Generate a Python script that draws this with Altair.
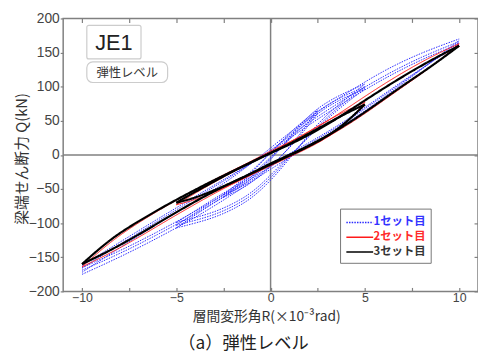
import altair as alt
import pandas as pd

# ---------------- data ----------------
SETS = ["1セット目", "2セット目", "3セット目"]

# 3rd set (black)
X10 = [-10, -8.5, -7, -5.5, -4, -2.5, -1, 0, 1.5, 3.3, 5, 6.7, 8.5, 10]
BLACK10_UP = [-160, -123, -97, -73, -51, -30, -11, 3, 21, 49, 80, 110, 139, 160]
BLACK10_LO = [-160, -140, -117, -92, -68, -46, -27, -12, 6, 32, 62, 96, 129, 160]
X5 = [-5, -4, -3, -2, -1, 0, 1, 2, 3, 4, 5]
BLACK5_UP = [-70, -54, -39, -24, -10, 3, 16, 31, 46, 61, 74]
BLACK5_LO = [-70, -63, -52, -40, -27, -14, -1, 12, 27, 47, 74]

# 2nd set (red)
RED10_UP = [-164, -127, -99, -74, -51, -29, -9, 6, 25, 54, 86, 116, 144, 163]
RED10_LO = [-164, -144, -121, -96, -72, -49, -29, -14, 4, 30, 60, 94, 128, 163]
RED5_UP = [-73, -56, -40, -25, -10, 4, 18, 34, 50, 65, 77]
RED5_LO = [-73, -66, -55, -42, -29, -16, -3, 10, 25, 45, 77]

# 1st set (blue, dotted)
XB10 = [-10, -8, -6, -4, -2, 0, 2, 4, 6, 8, 10]
BLUE10A_UP = [-172, -136, -101, -68, -34, 10, 55, 90, 124, 150, 170]
BLUE10A_LO = [-175, -150, -122, -92, -58, -20, 12, 45, 84, 125, 168]
BLUE10B_UP = [-166, -131, -97, -64, -30, 6, 48, 83, 116, 144, 166]
BLUE10B_LO = [-169, -145, -117, -87, -53, -16, 15, 48, 87, 126, 165]
BLUE10C_UP = [-162, -128, -94, -61, -28, 4, 44, 79, 112, 140, 163]
BLUE10C_LO = [-165, -141, -113, -83, -50, -13, 17, 50, 89, 127, 162]
BLUE5A_UP = [-107, -88, -70, -54, -36, -8, 26, 58, 78, 92, 104]
BLUE5A_LO = [-107, -100, -92, -80, -64, -38, -6, 30, 60, 82, 104]
BLUE5B_UP = [-103, -85, -67, -51, -33, -5, 24, 54, 74, 88, 100]
BLUE5B_LO = [-103, -96, -88, -76, -60, -34, -3, 27, 56, 79, 100]
BLUE5C_UP = [-99, -82, -64, -48, -30, -3, 22, 50, 71, 85, 97]
BLUE5C_LO = [-99, -92, -84, -72, -56, -30, -1, 25, 53, 76, 97]
X25 = [-2.5, -1.5, -0.5, 0.5, 1.5, 2.5]
BLUE25A_UP = [-62, -40, -12, 18, 45, 66]
BLUE25A_LO = [-62, -50, -30, -5, 28, 66]
BLUE25B_UP = [-58, -37, -10, 17, 42, 61]
BLUE25B_LO = [-58, -47, -28, -4, 25, 61]

X_TICKS = [-10, -7.5, -5, -2.5, 0, 2.5, 5, 7.5, 10]
X_LABELS = [-10, -5, 0, 5, 10]
Y_TICKS = [-200, -150, -100, -50, 0, 50, 100, 150, 200]

loops = [
    (SETS[0], "b10a", XB10, BLUE10A_UP, BLUE10A_LO),
    (SETS[0], "b10b", XB10, BLUE10B_UP, BLUE10B_LO),
    (SETS[0], "b10c", XB10, BLUE10C_UP, BLUE10C_LO),
    (SETS[0], "b5a", X5, BLUE5A_UP, BLUE5A_LO),
    (SETS[0], "b5b", X5, BLUE5B_UP, BLUE5B_LO),
    (SETS[0], "b5c", X5, BLUE5C_UP, BLUE5C_LO),
    (SETS[0], "b25a", X25, BLUE25A_UP, BLUE25A_LO),
    (SETS[0], "b25b", X25, BLUE25B_UP, BLUE25B_LO),
    (SETS[1], "r10", X10, RED10_UP, RED10_LO),
    (SETS[1], "r5", X5, RED5_UP, RED5_LO),
    (SETS[2], "k10", X10, BLACK10_UP, BLACK10_LO),
    (SETS[2], "k5", X5, BLACK5_UP, BLACK5_LO),
]

rows = []
for s, tag, xs_, up, lo in loops:
    for x, q in zip(xs_, up):
        rows.append({"x": x, "q": q, "set": s, "branch": tag + "u"})
    for x, q in zip(xs_, lo):
        rows.append({"x": x, "q": q, "set": s, "branch": tag + "l"})
df = pd.DataFrame(rows)

# ---------------- chart ----------------
W, H = 421, 277
JP = "Noto Sans CJK JP"
LAT = "Liberation Sans"
GRAY = "#808080"

xs = alt.Scale(domain=[-11, 11], nice=False, zero=False)
ys = alt.Scale(domain=[-200, 200], nice=False, zero=False)
color_scale = alt.Scale(domain=SETS, range=["#2a2aff", "#ff1a1a", "#000000"])
dash_scale = alt.Scale(domain=SETS, range=[[1.5, 1.2], [1, 0], [1, 0]])

legend = alt.Legend(
    title=None, orient="none", legendX=281, legendY=193,
    padding=5, fillColor="white", strokeColor="#777777",
    symbolType="M-1.7,0L1.7,0", symbolSize=256, symbolStrokeWidth=1.5,
    symbolOffset=6, labelOffset=5, labelFont=JP, labelFontSize=11.5,
    labelFontWeight="bold", rowPadding=0,
    labelColor={"expr": "datum.label == '1セット目' ? '#3333ff' : datum.label == '2セット目' ? '#ff2a2a' : '#333333'"},
)

base = alt.Chart(df)


def series_layer(name, width, xaxis, yaxis):
    return base.transform_filter(alt.datum.set == name).mark_line(
        interpolate="basis", strokeWidth=width
    ).encode(
        x=alt.X("x:Q", scale=xs, axis=xaxis),
        y=alt.Y("q:Q", scale=ys, axis=yaxis),
        color=alt.Color("set:N", scale=color_scale, legend=legend),
        strokeDash=alt.StrokeDash("set:N", scale=dash_scale, legend=legend),
        detail="branch:N",
        order=alt.Order("x:Q"),
    )


tick_common = dict(labels=False, domain=False, grid=False, title=None,
                   tickColor=GRAY, tickWidth=1.2, tickSize=4)

blue = series_layer(
    SETS[0], 1,
    alt.Axis(orient="bottom", offset=-H, values=X_TICKS, **tick_common),
    alt.Axis(orient="left", offset=-W, values=Y_TICKS, **tick_common),
)
red = series_layer(
    SETS[1], 1,
    alt.Axis(orient="top", offset=-H, values=X_TICKS, **tick_common),
    None,
)
black = series_layer(
    SETS[2], 2.2,
    alt.Axis(orient="bottom", values=X_LABELS, ticks=False, domain=False, grid=False,
             labelFont=LAT, labelFontSize=12.5, labelColor="#444444", labelPadding=0,
             title="層間変形角R(×10⁻³rad)", titleFont=JP, titleFontSize=14,
             titleFontWeight="normal", titleColor="#333333",
             titleX=206, titleY=26, titleBaseline="middle"),
    alt.Axis(orient="left", values=Y_TICKS, ticks=True, tickSize=3, tickColor=GRAY,
             tickWidth=1.2, domain=False, grid=False,
             labelFont=LAT, labelFontSize=14, labelColor="#444444", labelPadding=1,
             title="梁端せん断力 Q(kN)", titleFont=JP, titleFontSize=15,
             titleFontWeight="normal", titleColor="#333333",
             titleX=-42, titleY=142, titleBaseline="middle", titleAlign="center"),
)

zero = alt.Chart(pd.DataFrame({"z": [0]}))
vline = zero.mark_rule(color=GRAY, strokeWidth=1.5).encode(x=alt.X("z:Q", scale=xs, axis=None))
hline = zero.mark_rule(color=GRAY, strokeWidth=1.5).encode(y=alt.Y("z:Q", scale=ys, axis=None))

dummy = alt.Chart(pd.DataFrame({"a": [0]}))
box1 = dummy.mark_rect(fill="white", stroke="#cccccc", strokeWidth=1.2, cornerRadius=2).encode(
    x=alt.value(24), x2=alt.value(79), y=alt.value(7), y2=alt.value(41))
txt1 = dummy.mark_text(font=LAT, fontSize=22, color="#222222", baseline="middle", align="center").encode(
    x=alt.value(51.5), y=alt.value(25), text=alt.value("JE1"))
box2 = dummy.mark_rect(fill="white", stroke="#cccccc", strokeWidth=1.2, cornerRadius=6).encode(
    x=alt.value(24), x2=alt.value(106), y=alt.value(44), y2=alt.value(65))
txt2 = dummy.mark_text(font=JP, fontSize=12.5, color="#333333", baseline="middle", align="center").encode(
    x=alt.value(65), y=alt.value(55), text=alt.value("弾性レベル"))
caption = dummy.mark_text(font=JP, fontSize=17.5, color="#222222", baseline="middle", align="center").encode(
    x=alt.value(183), y=alt.value(330), text=alt.value("（a）弾性レベル"))

chart = alt.layer(
    vline, hline, blue, red, black, box1, txt1, box2, txt2, caption
).resolve_axis(
    x="independent", y="independent"
).properties(
    width=W, height=H,
    autosize=alt.AutoSizeParams(type="none"),
    padding={"left": 56, "top": 8, "right": 0, "bottom": 66},
).configure_view(stroke=GRAY, strokeWidth=1.5)

chart.save("out.html", embed_options={"renderer": "svg", "actions": False})
